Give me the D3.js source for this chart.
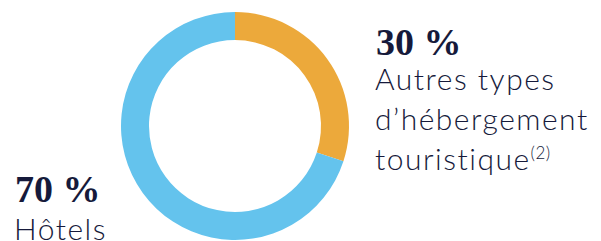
<!DOCTYPE html>
<html>
<head>
<meta charset="utf-8">
<script src="https://cdn.jsdelivr.net/npm/d3@7"></script>
<style>
  html, body { margin: 0; padding: 0; background: #fff; }
  svg { display: block; }
</style>
</head>
<body>
<div id="chart"></div>
<script>
// donnees
const categories = ["Autres types d’hébergement touristique", "Hôtels"];
const values = [30, 70];
const colors = ["#ECA93B", "#64C3ED"];
const percentLabels = ["30 %", "70 %"];
// lignes de texte de chaque etiquette
const labelLines = [["Autres types", "d’hébergement", "touristique"], ["Hôtels"]];
const notes = ["(2)", ""];

const width = 601, height = 241;
const cx = 235, cy = 126, outerR = 114, innerR = 86;
const ink = "#161a3b";

const svg = d3.select("#chart")
  .append("svg")
  .attr("width", width)
  .attr("height", height);

const pie = d3.pie().sort(null).value(d => d);
const arc = d3.arc().innerRadius(innerR).outerRadius(outerR);

svg.append("g")
  .attr("transform", "translate(" + cx + "," + cy + ")")
  .selectAll("path")
  .data(pie(values))
  .join("path")
  .attr("d", arc)
  .attr("fill", (d, i) => colors[i]);

// positions des etiquettes
const labelPos = [{ x: 376, y: 55, first: 35 }, { x: 15, y: 202, first: 38 }];

const labels = svg.selectAll("g.label")
  .data(categories)
  .join("g")
  .attr("class", "label")
  .attr("transform", (d, i) => "translate(" + labelPos[i].x + "," + labelPos[i].y + ")");

labels.append("text")
  .attr("x", 0)
  .attr("y", 0)
  .attr("font-family", "'Liberation Serif', 'DejaVu Serif', serif")
  .attr("font-weight", "bold")
  .attr("font-size", 38)
  .attr("fill", ink)
  .text((d, i) => percentLabels[i]);

labels.each(function (d, i) {
  const g = d3.select(this);
  const t = g.append("text")
    .attr("font-family", "Lato, 'Open Sans', sans-serif")
    .attr("font-weight", 300)
    .attr("font-size", 30)
    .attr("letter-spacing", 1.5)
    .attr("fill", ink);
  labelLines[i].forEach((line, j) => {
    t.append("tspan")
      .attr("x", -1)
      .attr("y", labelPos[i].first + j * 40)
      .text(line);
  });
  if (notes[i]) {
    t.append("tspan")
      .attr("dy", -11)
      .attr("font-size", 17)
      .attr("letter-spacing", 0.5)
      .text(notes[i]);
  }
});
</script>
</body>
</html>
